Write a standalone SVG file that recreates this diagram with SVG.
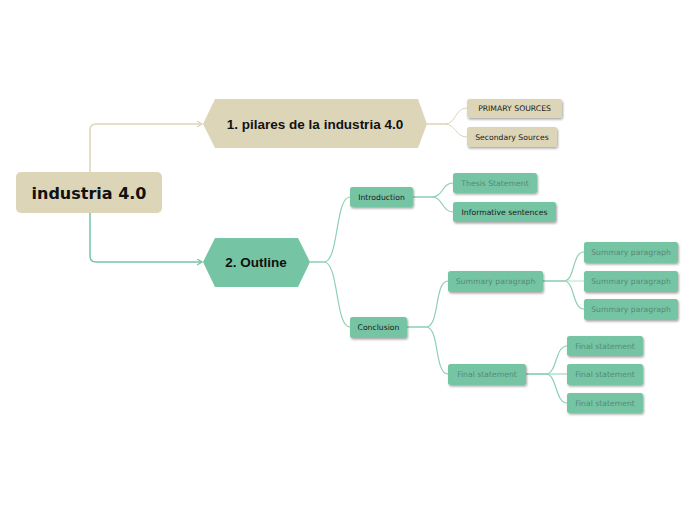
<svg xmlns="http://www.w3.org/2000/svg" width="696" height="520" viewBox="0 0 696 520">
<defs>
<style>
.beige{fill:#DDD5B8}
.green{fill:#75C4A4}
.cb{fill:none;stroke:#DDD5B8;stroke-width:1.5}
.cg{fill:none;stroke:#8CD0B3;stroke-width:1.2}
.big{font-family:"DejaVu Sans",Verdana,sans-serif;font-weight:bold;font-size:16px;fill:#111;text-anchor:middle}
.hex{font-family:"Liberation Sans",Arial,sans-serif;font-weight:bold;font-size:13.5px;fill:#111;text-anchor:middle}
.sm{font-family:"DejaVu Sans",Verdana,sans-serif;font-size:7.7px;fill:#1a1a1a;text-anchor:middle}
.gr{fill:#588A74}
</style>
<filter id="sh" x="-10%" y="-20%" width="130%" height="160%">
<feDropShadow dx="1" dy="1.5" stdDeviation="0.8" flood-color="#000" flood-opacity="0.35"/>
</filter>
<marker id="ab" markerWidth="8" markerHeight="8" refX="5" refY="3" orient="auto" markerUnits="userSpaceOnUse">
<path d="M0,0 L5,3 L0,6" fill="none" stroke="#DDD5B8" stroke-width="1.3"/>
</marker>
<marker id="ag" markerWidth="8" markerHeight="8" refX="5" refY="3" orient="auto" markerUnits="userSpaceOnUse">
<path d="M0,0 L5,3 L0,6" fill="none" stroke="#75C4A4" stroke-width="1.3"/>
</marker>
</defs>
<rect width="696" height="520" fill="#fff"/>
<g id="connectors">
<path class="cb" d="M90 172 V130 Q90 124 96 124 H202" marker-end="url(#ab)"/>
<path class="cg" style="stroke:#75C4A4;stroke-width:1.5" d="M90 213 V256 Q90 262 96 262 H202" marker-end="url(#ag)"/>
<path class="cb" style="stroke-width:1" d="M427 124 H445 C456 124 455 108 467 108"/>
<path class="cb" style="stroke-width:1" d="M427 124 H445 C456 124 455 137 467 137"/>
<path class="cg" d="M310 262 H324 C339 262 335 197 350 197"/>
<path class="cg" d="M310 262 H324 C339 262 335 327 350 327"/>
<path class="cg" d="M413 197 H432 C443 197 442 183 453 183"/>
<path class="cg" d="M413 197 H432 C443 197 442 212 453 212"/>
<path class="cg" d="M407 327 H426 C440 327 434 281 448 281"/>
<path class="cg" d="M407 327 H426 C440 327 434 374 448 374"/>
<path class="cg" d="M543 281 H564 C575 281 572 252 584 252"/>
<path class="cg" style="stroke:#B5E2CF" d="M543 281 H584"/>
<path class="cg" d="M543 281 H564 C575 281 572 309 584 309"/>
<path class="cg" d="M526 374 H546 C557 374 555 346 567 346"/>
<path class="cg" d="M526 374 H567"/>
<path class="cg" d="M526 374 H546 C557 374 555 403 567 403"/>
</g>
<g id="root">
<rect class="beige" x="16" y="172" width="146" height="41" rx="5"/>
<text class="big" x="89" y="198.5">industria 4.0</text>
</g>
<g id="pilares">
<polygon class="beige" points="203,124 215,99 418,99 427,124 418,148 215,148"/>
<text class="hex" x="315" y="129">1. pilares de la industria 4.0</text>
</g>
<g id="outline">
<polygon class="green" points="203,262 215,238 298,238 310,262 298,287 215,287"/>
<text class="hex" x="256" y="267">2. Outline</text>
</g>
<g id="primary">
<rect class="beige" x="467" y="99" width="95" height="19" rx="2.5" filter="url(#sh)"/>
<text class="sm" x="514.5" y="111.2">PRIMARY SOURCES</text>
</g>
<g id="secondary">
<rect class="beige" x="467" y="127" width="90" height="20" rx="2.5" filter="url(#sh)"/>
<text class="sm" x="512" y="139.7">Secondary Sources</text>
</g>
<g id="introduction">
<rect class="green" x="350" y="187" width="63" height="20" rx="2.5" filter="url(#sh)"/>
<text class="sm" x="381.5" y="199.7">Introduction</text>
</g>
<g id="thesis">
<rect class="green" x="453" y="173" width="84" height="20" rx="2.5" filter="url(#sh)"/>
<text class="sm gr" x="495" y="185.7">Thesis Statement</text>
</g>
<g id="informative">
<rect class="green" x="453" y="202" width="103" height="20" rx="2.5" filter="url(#sh)"/>
<text class="sm" x="504.5" y="214.7">Informative sentences</text>
</g>
<g id="conclusion">
<rect class="green" x="350" y="317" width="57" height="21" rx="2.5" filter="url(#sh)"/>
<text class="sm" x="378.5" y="330.2">Conclusion</text>
</g>
<g id="summary">
<rect class="green" x="448" y="271" width="95" height="21" rx="2.5" filter="url(#sh)"/>
<text class="sm gr" x="495.5" y="284.2">Summary paragraph</text>
</g>
<g id="summary1">
<rect class="green" x="584" y="242" width="94" height="21" rx="2.5" filter="url(#sh)"/>
<text class="sm gr" x="631" y="255.2">Summary paragraph</text>
</g>
<g id="summary2">
<rect class="green" x="584" y="271" width="94" height="21" rx="2.5" filter="url(#sh)"/>
<text class="sm gr" x="631" y="284.2">Summary paragraph</text>
</g>
<g id="summary3">
<rect class="green" x="584" y="299" width="94" height="21" rx="2.5" filter="url(#sh)"/>
<text class="sm gr" x="631" y="312.2">Summary paragraph</text>
</g>
<g id="final">
<rect class="green" x="448" y="364" width="78" height="21" rx="2.5" filter="url(#sh)"/>
<text class="sm gr" x="487" y="377.2">Final statement</text>
</g>
<g id="final1">
<rect class="green" x="567" y="336" width="76" height="20" rx="2.5" filter="url(#sh)"/>
<text class="sm gr" x="605" y="348.7">Final statement</text>
</g>
<g id="final2">
<rect class="green" x="567" y="364" width="76" height="21" rx="2.5" filter="url(#sh)"/>
<text class="sm gr" x="605" y="377.2">Final statement</text>
</g>
<g id="final3">
<rect class="green" x="567" y="393" width="76" height="20" rx="2.5" filter="url(#sh)"/>
<text class="sm gr" x="605" y="405.7">Final statement</text>
</g>
</svg>
